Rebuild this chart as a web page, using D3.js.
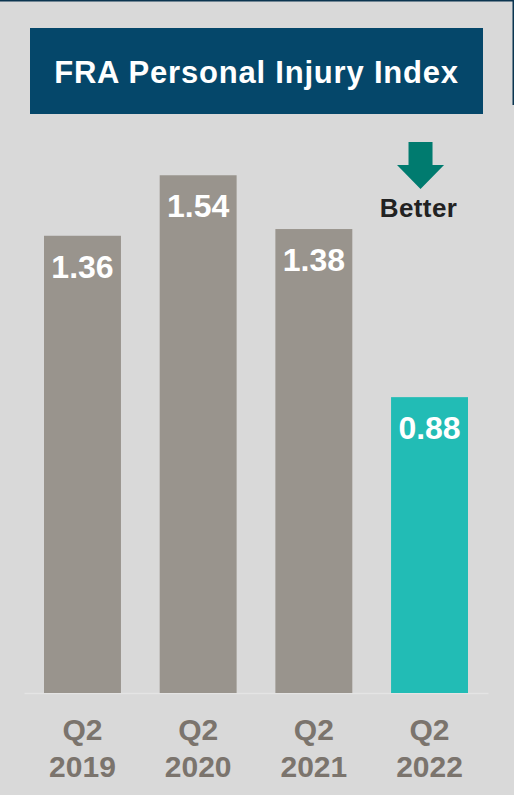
<!DOCTYPE html>
<html>
<head>
<meta charset="utf-8">
<script src="https://cdn.jsdelivr.net/npm/d3@7"></script>
<style>
  html, body { margin: 0; padding: 0; background: #ffffff; }
  svg { display: block; font-family: "Liberation Sans", Arial, Helvetica, sans-serif; }
</style>
</head>
<body>
<div id="chart"></div>
<script>
// chart data
const quarters = ['Q2', 'Q2', 'Q2', 'Q2'];
const years = ['2019', '2020', '2021', '2022'];
const injuryIndex = [1.36, 1.54, 1.38, 0.88];
const latestYear = '2022';
const chartTitle = 'FRA Personal Injury Index';
const betterLabel = 'Better';

class InjuryBarChart {
  constructor(_config) {
    this.config = {
      parentElement: _config.parentElement,
      containerWidth: 514,
      containerHeight: 795,
      margin: { top: 20, right: 26, bottom: 102, left: 24 },
    };
    this.initVis();
  }

  initVis() {
    let vis = this;

    vis.config.width = vis.config.containerWidth - vis.config.margin.left - vis.config.margin.right;
    vis.config.height = vis.config.containerHeight - vis.config.margin.top - vis.config.margin.bottom;

    vis.svg = d3.select(vis.config.parentElement).append('svg')
      .attr('width', vis.config.containerWidth)
      .attr('height', vis.config.containerHeight);

    // panel background + thin dark frame bits
    vis.svg.append('rect')
      .attr('width', vis.config.containerWidth)
      .attr('height', vis.config.containerHeight)
      .attr('fill', '#d9d9d9');
    vis.svg.append('rect')
      .attr('width', vis.config.containerWidth)
      .attr('height', 1.5)
      .attr('fill', '#0b3550');
    vis.svg.append('rect')
      .attr('x', 512.5)
      .attr('width', 1.5)
      .attr('height', 105)
      .attr('fill', '#0b3550');

    // title box
    vis.svg.append('rect')
      .attr('x', 30)
      .attr('y', 28)
      .attr('width', 453)
      .attr('height', 86)
      .attr('fill', '#05476a');
    vis.svg.append('text')
      .attr('x', 256.5)
      .attr('y', 83)
      .attr('text-anchor', 'middle')
      .attr('fill', '#ffffff')
      .attr('font-size', 31)
      .attr('font-weight', 'bold')
      .attr('letter-spacing', 0.8)
      .text(chartTitle);

    vis.chartArea = vis.svg.append('g')
      .attr('transform', `translate(${vis.config.margin.left},${vis.config.margin.top})`);

    vis.xScale = d3.scaleBand()
      .range([0, vis.config.width])
      .paddingInner(0.335)
      .paddingOuter(0.173);

    vis.yScale = d3.scaleLinear()
      .domain([0, 2])
      .range([vis.config.height, vis.config.height - 672.4]);

    vis.xAxis = d3.axisBottom(vis.xScale)
      .tickSize(0)
      .tickSizeOuter(0);

    vis.xAxisG = vis.chartArea.append('g')
      .attr('transform', `translate(0,${vis.config.height})`);

    vis.updateVis();
  }

  updateVis() {
    let vis = this;
    vis.data = years.map((y, i) => ({ quarter: quarters[i], year: y, value: injuryIndex[i] }));
    vis.xScale.domain(years);
    vis.renderVis();
  }

  renderVis() {
    let vis = this;
    const bw = vis.xScale.bandwidth();

    vis.chartArea.selectAll('.bar')
      .data(vis.data)
      .join('rect')
      .attr('class', 'bar')
      .attr('x', d => vis.xScale(d.year))
      .attr('y', d => vis.yScale(d.value))
      .attr('width', bw)
      .attr('height', d => vis.yScale(0) - vis.yScale(d.value))
      .attr('fill', d => d.year === latestYear ? '#22bcb5' : '#99948d');

    vis.chartArea.selectAll('.bar-label')
      .data(vis.data)
      .join('text')
      .attr('class', 'bar-label')
      .attr('x', d => vis.xScale(d.year) + bw / 2)
      .attr('y', d => vis.yScale(d.value) + 42)
      .attr('text-anchor', 'middle')
      .attr('fill', '#ffffff')
      .attr('font-size', 32)
      .attr('font-weight', 'bold')
      .text(d => d.value.toFixed(2));

    // "Better" indicator above last bar
    const cx = vis.xScale(latestYear) + bw / 2;
    const arrow = vis.chartArea.append('g')
      .attr('transform', `translate(${cx - 9},${122})`);
    arrow.append('path')
      .attr('d', 'M-12,0H12V23H23.5L0,47L-23.5,23H-12Z')
      .attr('fill', '#007b6f');
    vis.chartArea.append('text')
      .attr('x', cx - 11)
      .attr('y', 197)
      .attr('text-anchor', 'middle')
      .attr('fill', '#222222')
      .attr('font-size', 26)
      .attr('font-weight', 'bold')
      .attr('letter-spacing', 0.4)
      .text(betterLabel);

    // x axis with two-line tick labels
    vis.xAxisG.call(vis.xAxis);
    vis.xAxisG.select('.domain')
      .attr('stroke', '#e4e4e4')
      .attr('stroke-width', 1.5);
    const ticks = vis.xAxisG.selectAll('.tick text')
      .attr('fill', '#7b746d')
      .attr('font-size', 30)
      .attr('font-weight', 'bold')
      .attr('font-family', 'inherit')
      .attr('y', 0)
      .attr('dy', null)
      .text(null);
    ticks.append('tspan')
      .attr('x', 0)
      .attr('y', 47)
      .text((d, i) => quarters[i]);
    ticks.append('tspan')
      .attr('x', 0)
      .attr('y', 84)
      .text(d => d);
  }
}

new InjuryBarChart({ parentElement: '#chart' });
</script>
</body>
</html>
